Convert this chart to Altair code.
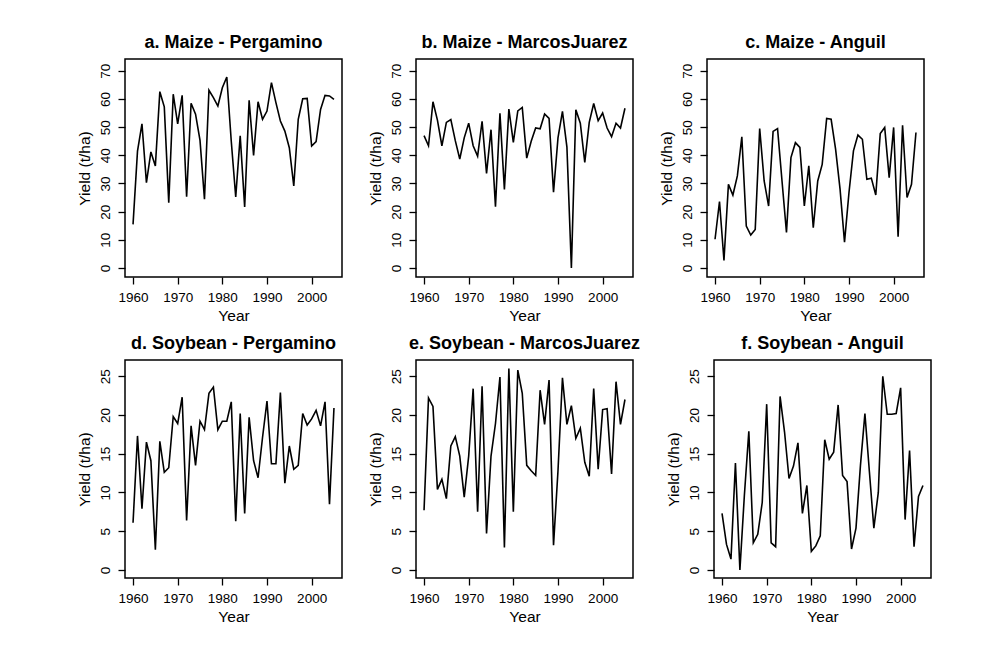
import altair as alt
import pandas as pd

years = list(range(1960, 2006))

maize_pergamino = [15.5, 41.5, 51.2, 30.3, 41.2, 36.2, 62.6, 57.2, 23.2, 61.7,
                   51.2, 61.3, 25.3, 58.5, 54.6, 45.3, 24.4, 63.1, 60.5, 57.5,
                   64.0, 67.8, 45.0, 25.2, 46.9, 21.7, 59.5, 40.0, 59.0, 52.8,
                   55.7, 65.8, 58.7, 52.2, 48.6, 42.7, 29.1, 52.8, 60.1, 60.2,
                   43.3, 44.9, 56.3, 61.3, 61.1, 59.9]
maize_marcosjuarez = [47.0, 43.4, 59.0, 52.5, 43.4, 51.7, 52.7, 45.2, 38.7, 46.2,
                      51.4, 43.4, 39.7, 52.1, 33.6, 49.1, 21.8, 54.9, 27.9, 56.4,
                      44.6, 55.8, 57.0, 39.0, 45.0, 49.7, 49.4, 54.7, 53.1, 26.9,
                      46.2, 55.6, 42.9, 0.0, 56.2, 51.4, 37.5, 51.7, 58.4, 52.3,
                      55.0, 49.7, 46.6, 51.4, 49.7, 56.7]
maize_anguil = [10.2, 23.6, 2.7, 29.7, 25.9, 32.7, 46.6, 14.9, 11.7, 13.7,
                49.5, 30.9, 22.0, 48.5, 49.5, 30.9, 12.6, 39.2, 44.5, 42.8,
                22.0, 36.3, 14.3, 30.9, 36.8, 53.1, 52.8, 42.2, 28.0, 9.2,
                26.8, 41.6, 47.2, 45.7, 31.5, 31.9, 25.9, 47.7, 49.9, 32.1,
                49.9, 11.1, 50.7, 25.0, 29.7, 48.1]
soy_pergamino = [6.1, 17.3, 7.9, 16.5, 14.1, 2.6, 16.6, 12.6, 13.2, 19.8,
                 18.9, 22.3, 6.4, 18.6, 13.5, 19.2, 18.1, 22.8, 23.6, 18.1,
                 19.2, 19.2, 21.7, 6.3, 20.2, 7.3, 19.7, 14.1, 11.9, 17.1,
                 21.8, 13.7, 13.7, 22.9, 11.2, 16.0, 13.0, 13.5, 20.2, 18.7,
                 19.5, 20.6, 18.6, 21.7, 8.5, 20.9]
soy_marcosjuarez = [7.7, 22.2, 21.1, 10.4, 11.7, 9.2, 16.0, 17.2, 14.7, 9.4,
                    14.7, 23.4, 7.5, 23.7, 4.7, 14.7, 18.9, 24.9, 2.9, 26.0,
                    7.5, 25.8, 22.8, 13.5, 12.8, 12.2, 23.2, 18.8, 24.5, 3.2,
                    12.8, 24.8, 18.8, 21.2, 17.0, 18.3, 13.9, 12.1, 23.4, 13.0,
                    20.7, 20.8, 12.4, 24.3, 18.8, 22.0]
soy_anguil = [7.3, 3.3, 1.4, 13.8, 0.0, 9.6, 17.9, 3.5, 4.6, 8.7,
              21.4, 3.5, 3.0, 22.4, 17.8, 11.8, 13.4, 16.4, 7.3, 10.9,
              2.4, 3.1, 4.4, 16.8, 14.3, 15.2, 21.3, 12.2, 11.4, 2.7,
              5.4, 13.5, 20.2, 12.7, 5.4, 10.0, 25.0, 20.1, 20.1, 20.2,
              23.5, 6.5, 15.4, 3.0, 9.5, 10.9]

titles = ["a. Maize - Pergamino", "b. Maize - MarcosJuarez", "c. Maize - Anguil",
          "d. Soybean - Pergamino", "e. Soybean - MarcosJuarez", "f. Soybean - Anguil"]
x_ticks = [1960, 1970, 1980, 1990, 2000]
maize_ticks = [0, 10, 20, 30, 40, 50, 60, 70]
soy_ticks = [0, 5, 10, 15, 20, 25]

FONT = "Liberation Sans"


def panel(values, title, ydomain, yticks):
    df = pd.DataFrame({"year": years, "yield": values})
    return alt.Chart(df).mark_line(color="black", strokeWidth=1.6).encode(
        x=alt.X("year:Q",
                scale=alt.Scale(domain=[1958.2, 2006.8], nice=False, zero=False),
                axis=alt.Axis(values=x_ticks, format="d", title="Year",
                              labelPadding=6, titlePadding=5)),
        y=alt.Y("yield:Q",
                scale=alt.Scale(domain=ydomain, nice=False, zero=False),
                axis=alt.Axis(values=yticks, title="Yield (t/ha)",
                              labelAngle=-90, labelAlign="center",
                              labelBaseline="bottom", labelPadding=6,
                              titlePadding=6)),
    ).properties(
        width=217, height=218,
        title=alt.TitleParams(title, fontSize=18, fontWeight="bold", font=FONT,
                              color="black", offset=7, anchor="middle"),
    )


maize_dom = [-3.2, 74.2]
soy_dom = [-1.04, 27.1]

row1 = alt.hconcat(
    panel(maize_pergamino, titles[0], maize_dom, maize_ticks),
    panel(maize_marcosjuarez, titles[1], maize_dom, maize_ticks),
    panel(maize_anguil, titles[2], maize_dom, maize_ticks),
    spacing=24,
)
row2 = alt.hconcat(
    panel(soy_pergamino, titles[3], soy_dom, soy_ticks),
    panel(soy_marcosjuarez, titles[4], soy_dom, soy_ticks),
    panel(soy_anguil, titles[5], soy_dom, soy_ticks),
    spacing=24,
)

chart = alt.vconcat(row1, row2, spacing=9).properties(
    padding={"left": 68, "top": 25, "right": 5, "bottom": 5},
    background="white",
).configure_view(
    stroke="black", strokeWidth=1.5
).configure_axis(
    grid=False, domain=False, tickColor="black", tickSize=7, tickWidth=1.3,
    labelFont=FONT, labelFontSize=13.5, labelColor="black",
    titleFont=FONT, titleFontSize=15.5, titleFontWeight="normal", titleColor="black",
)

chart.save("out.html", embed_options={"renderer": "svg", "actions": False})
